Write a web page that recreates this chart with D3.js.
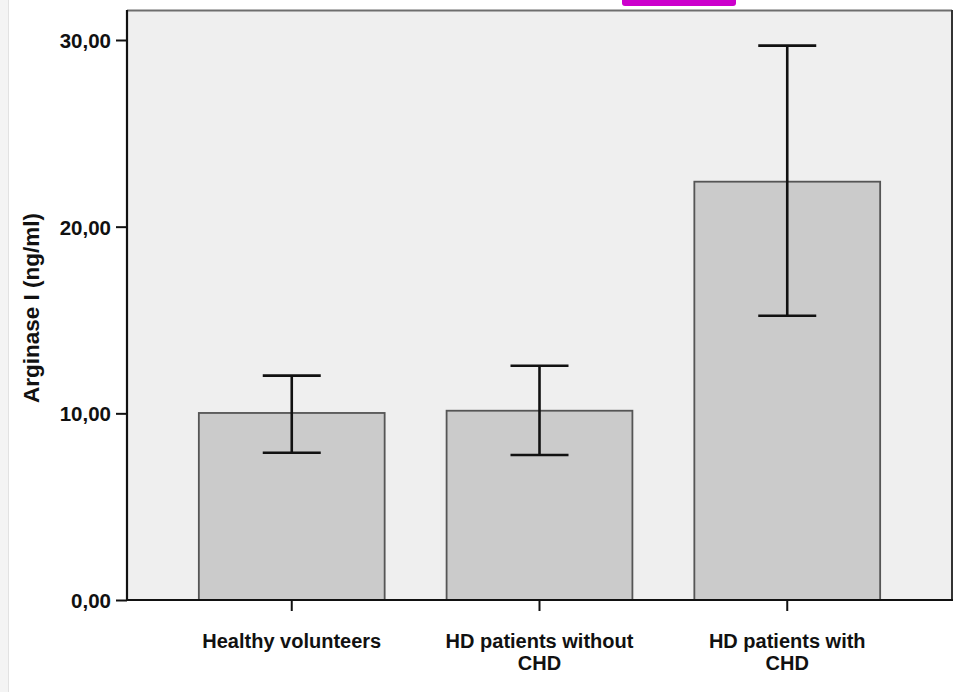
<!DOCTYPE html>
<html>
<head>
<meta charset="utf-8">
<script src="https://cdn.jsdelivr.net/npm/d3@7"></script>
<style>
  html, body { margin: 0; padding: 0; background: #ffffff; }
  svg { display: block; }
  text { font-family: "Liberation Sans", Arial, Helvetica, sans-serif; font-weight: bold; fill: #111; }
</style>
</head>
<body>
<svg id="chart" width="957" height="692"></svg>
<script>
// Arginase I concentrations by group: mean with error bar limits (ng/ml)
const categories = [
  ["Healthy volunteers"],
  ["HD patients without", "CHD"],
  ["HD patients with", "CHD"]
];
const means = [10.02, 10.14, 22.41];
const upper = [12.02, 12.55, 29.70];
const lower = [7.89, 7.77, 15.23];
const yTicks = [0, 10, 20, 30];
const yTickLabels = ["0,00", "10,00", "20,00", "30,00"];
const yTitle = "Arginase I (ng/ml)";

const svg = d3.select("#chart");
const W = 957, H = 692;
const plot = { left: 127, right: 952, top: 10, bottom: 600 };

const ids = categories.map((c, i) => i);
const x = d3.scaleBand()
  .domain(ids)
  .range([plot.left, plot.right])
  .paddingInner(0.25)
  .paddingOuter(0.29);

const y = d3.scaleLinear().domain([0, 30]).range([plot.bottom, 40]);

// faint page edge on the left
svg.append("rect").attr("x", 0).attr("y", 0).attr("width", 8).attr("height", H).attr("fill", "#f4f4f4");
svg.append("line").attr("x1", 8.5).attr("x2", 8.5).attr("y1", 0).attr("y2", H)
  .attr("stroke", "#e2e2e2").attr("stroke-width", 1);

// plot area background and frame
svg.append("rect")
  .attr("x", plot.left).attr("y", plot.top)
  .attr("width", plot.right - plot.left).attr("height", plot.bottom - plot.top)
  .attr("fill", "#efefef");
svg.append("line").attr("x1", plot.left).attr("x2", plot.right)
  .attr("y1", plot.top + 0.5).attr("y2", plot.top + 0.5)
  .attr("stroke", "#6e6e6e").attr("stroke-width", 2);
svg.append("line").attr("x1", plot.right).attr("x2", plot.right)
  .attr("y1", plot.top).attr("y2", plot.bottom)
  .attr("stroke", "#333").attr("stroke-width", 2);

// highlight tab at the top edge
svg.append("rect").attr("x", 622).attr("y", -4).attr("width", 114).attr("height", 10)
  .attr("rx", 3).attr("fill", "#cc00cc");

// bars
svg.append("g").selectAll("rect")
  .data(means)
  .join("rect")
  .attr("x", (d, i) => x(i))
  .attr("y", d => y(d))
  .attr("width", x.bandwidth())
  .attr("height", d => y(0) - y(d))
  .attr("fill", "#cbcbcb")
  .attr("stroke", "#555")
  .attr("stroke-width", 1.8);

// error bars
const capHalf = 29;
const eb = svg.append("g").attr("stroke", "#111").attr("stroke-width", 2.6);
ids.forEach(i => {
  const cx = x(i) + x.bandwidth() / 2;
  eb.append("line").attr("x1", cx).attr("x2", cx).attr("y1", y(upper[i])).attr("y2", y(lower[i]));
  eb.append("line").attr("x1", cx - capHalf).attr("x2", cx + capHalf).attr("y1", y(upper[i])).attr("y2", y(upper[i]));
  eb.append("line").attr("x1", cx - capHalf).attr("x2", cx + capHalf).attr("y1", y(lower[i])).attr("y2", y(lower[i]));
});

// y axis
const yAxis = d3.axisLeft(y)
  .tickValues(yTicks)
  .tickSize(11)
  .tickPadding(5)
  .tickFormat((d, i) => yTickLabels[i]);
const gy = svg.append("g").attr("transform", `translate(${plot.left},0)`).call(yAxis);
gy.select(".domain").remove();
gy.selectAll(".tick line").attr("stroke", "#111").attr("stroke-width", 2);
gy.selectAll(".tick text").attr("font-size", 20.5).attr("fill", "#111").attr("dy", "0.36em")
  .style("font-family", "'Liberation Sans', Arial, sans-serif").style("font-weight", "bold");
svg.append("line").attr("x1", plot.left).attr("x2", plot.left)
  .attr("y1", plot.top).attr("y2", plot.bottom + 1)
  .attr("stroke", "#111").attr("stroke-width", 2.2);

// x axis
const xAxis = d3.axisBottom(x).tickSize(11).tickFormat("");
const gx = svg.append("g").attr("transform", `translate(0,${plot.bottom})`).call(xAxis);
gx.select(".domain").remove();
gx.selectAll(".tick line").attr("stroke", "#111").attr("stroke-width", 2);
svg.append("line").attr("x1", plot.left - 1).attr("x2", plot.right + 1)
  .attr("y1", plot.bottom).attr("y2", plot.bottom)
  .attr("stroke", "#111").attr("stroke-width", 2.2);

// category labels
const lab = svg.append("g");
ids.forEach(i => {
  const cx = x(i) + x.bandwidth() / 2;
  const t = lab.append("text")
    .attr("x", cx).attr("y", 648)
    .attr("text-anchor", "middle")
    .attr("font-size", 20);
  categories[i].forEach((line, k) => {
    t.append("tspan").attr("x", cx).attr("dy", k === 0 ? 0 : 22).text(line);
  });
});

// y axis title
svg.append("text")
  .attr("transform", `translate(39,308) rotate(-90)`)
  .attr("text-anchor", "middle")
  .attr("font-size", 22.5)
  .text(yTitle);
</script>
</body>
</html>
